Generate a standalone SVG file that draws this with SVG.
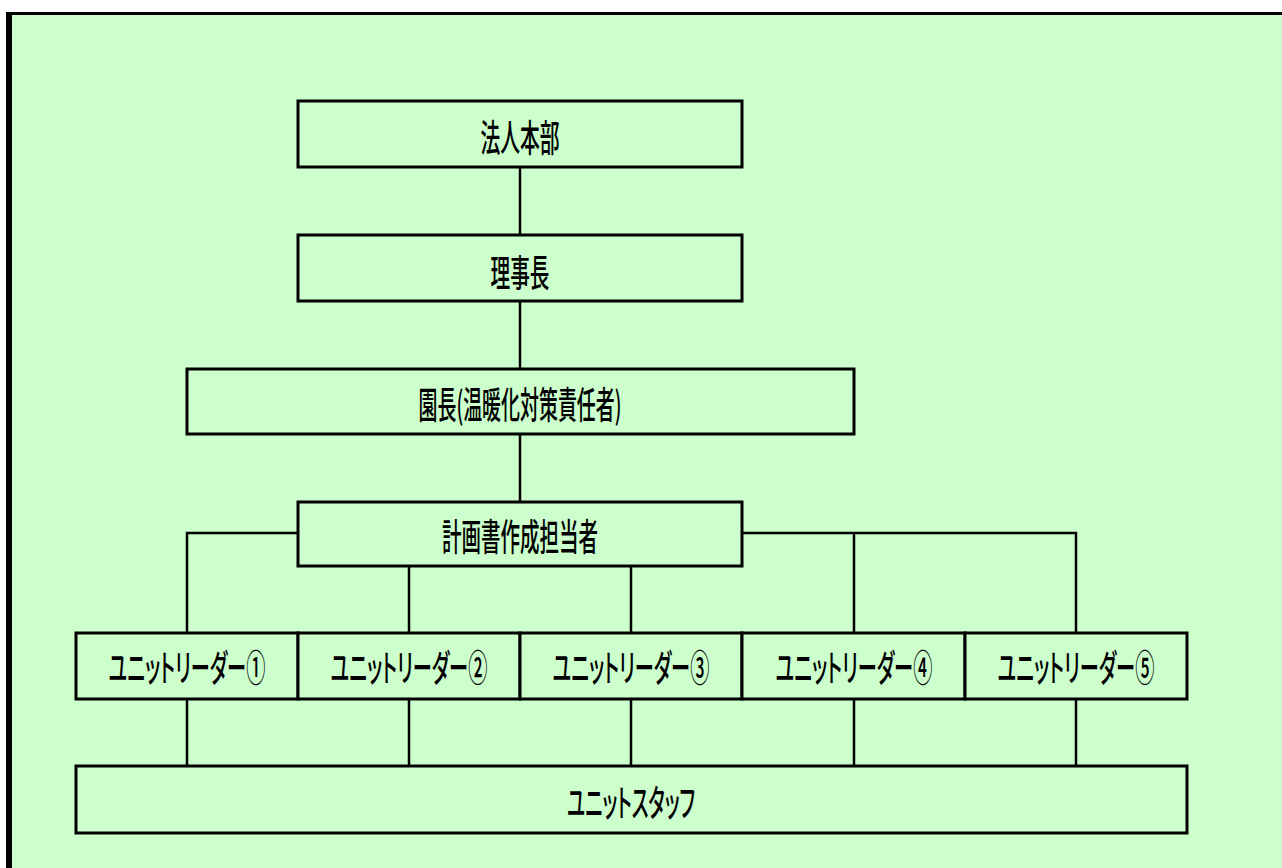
<svg xmlns="http://www.w3.org/2000/svg" width="1282" height="868" viewBox="0 0 1282 868">
<style>
.bg{fill:#CCFFCC}
.node rect{fill:#CCFFCC;stroke:#000;stroke-width:3}
.node text{font-family:"Noto Sans CJK JP","Liberation Sans",sans-serif;font-size:37px;font-weight:500;fill:#000;text-anchor:middle;dominant-baseline:central}
.node text.kana{font-feature-settings:"palt"}
.conn path{fill:none;stroke:#000;stroke-width:2.5}
</style>
<rect x="0" y="0" width="1282" height="868" fill="#FFFFFF"/>
<rect class="bg" x="12" y="15" width="1270" height="853"/>
<rect x="6" y="12" width="1276" height="3" fill="#000"/>
<rect x="6" y="12" width="6" height="856" fill="#000"/>
<g id="connectors" class="conn">
<path d="M520,167V235"/>
<path d="M520,301V369"/>
<path d="M520,434V502"/>
<path d="M298,533H187V633"/>
<path d="M742,533H1076V633"/>
<path d="M854,533V633"/>
<path d="M409,566V633"/>
<path d="M631,566V633"/>
<path d="M187,699V766"/>
<path d="M409,699V766"/>
<path d="M631,699V766"/>
<path d="M854,699V766"/>
<path d="M1076,699V766"/>
</g>
<g id="node-houjin" class="node"><rect x="298" y="101" width="444" height="66"/><text transform="translate(520,136) scale(0.55,1)" textLength="144" lengthAdjust="spacingAndGlyphs">法人本部</text></g>
<g id="node-rijicho" class="node"><rect x="298" y="235" width="444" height="66"/><text transform="translate(520,271) scale(0.55,1)" textLength="107" lengthAdjust="spacingAndGlyphs">理事長</text></g>
<g id="node-encho" class="node"><rect x="187" y="369" width="667" height="65"/><text transform="translate(520,403) scale(0.55,1)" textLength="369" lengthAdjust="spacingAndGlyphs">園長(温暖化対策責任者)</text></g>
<g id="node-keikaku" class="node"><rect x="298" y="502" width="444" height="64"/><text transform="translate(520,535) scale(0.55,1)" textLength="284" lengthAdjust="spacingAndGlyphs">計画書作成担当者</text></g>
<g id="node-leader1" class="node"><rect x="76" y="633" width="222" height="66"/><text class="kana" transform="translate(187,666) scale(0.55,1)" textLength="285" lengthAdjust="spacingAndGlyphs">ユニットリーダー①</text></g>
<g id="node-leader2" class="node"><rect x="298" y="633" width="222" height="66"/><text class="kana" transform="translate(409,666) scale(0.55,1)" textLength="285" lengthAdjust="spacingAndGlyphs">ユニットリーダー②</text></g>
<g id="node-leader3" class="node"><rect x="520" y="633" width="222" height="66"/><text class="kana" transform="translate(631,666) scale(0.55,1)" textLength="285" lengthAdjust="spacingAndGlyphs">ユニットリーダー③</text></g>
<g id="node-leader4" class="node"><rect x="742" y="633" width="223" height="66"/><text class="kana" transform="translate(854,666) scale(0.55,1)" textLength="285" lengthAdjust="spacingAndGlyphs">ユニットリーダー④</text></g>
<g id="node-leader5" class="node"><rect x="965" y="633" width="222" height="66"/><text class="kana" transform="translate(1076,666) scale(0.55,1)" textLength="285" lengthAdjust="spacingAndGlyphs">ユニットリーダー⑤</text></g>
<g id="node-staff" class="node"><rect x="76" y="766" width="1111" height="67"/><text class="kana" transform="translate(631,801) scale(0.55,1)" textLength="233" lengthAdjust="spacingAndGlyphs">ユニットスタッフ</text></g>
</svg>
